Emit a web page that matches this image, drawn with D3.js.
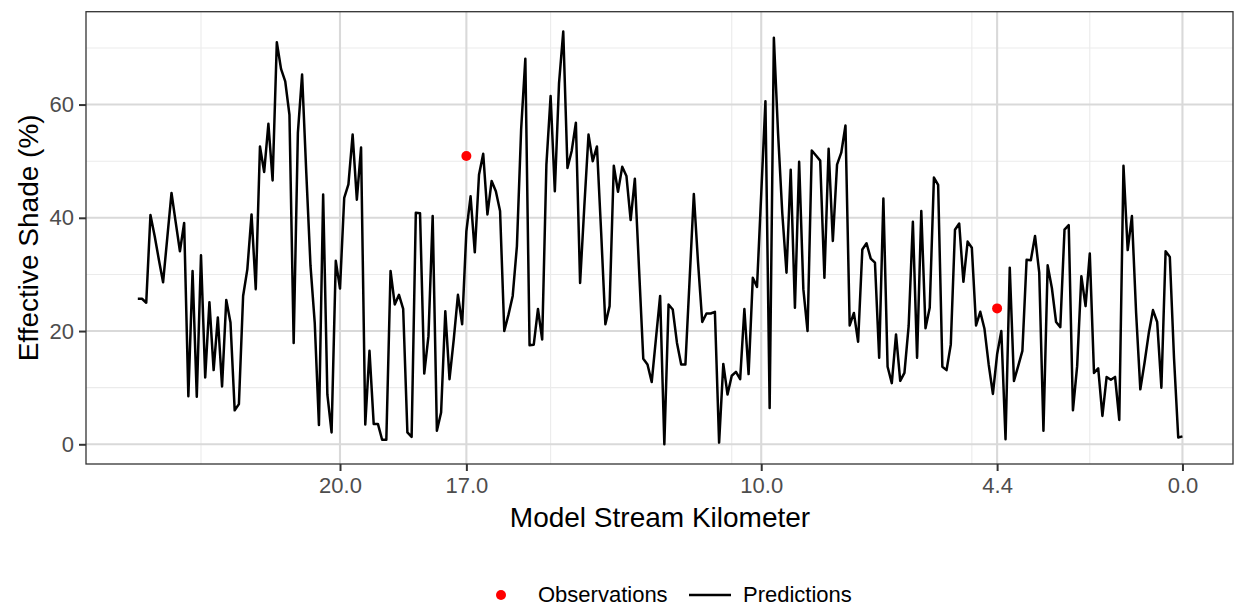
<!DOCTYPE html>
<html>
<head>
<meta charset="utf-8">
<script src="https://cdn.jsdelivr.net/npm/d3@7"></script>
<style>
  body { margin: 0; background: #fff; }
  text { font-family: "Liberation Sans", Arial, sans-serif; }
</style>
</head>
<body>
<div id="chart"></div>
<script>
// predicted effective shade, one value every 0.1 km from km 24.8 down to 0.0
var kmStart = 24.8, kmStep = 0.1;
var predShade = [
  25.7, 25.7, 25.0, 40.5, 36.8, 32.6, 28.6, 36.5, 44.4, 39.2,
  34.1, 39.1,  8.5, 30.6,  8.4, 33.4, 11.8, 25.1, 13.1, 22.4,
  10.2, 25.5, 21.5,  6.0,  7.1, 26.2, 30.9, 40.6, 27.4, 52.6,
  48.1, 56.6, 46.6, 71.0, 66.3, 64.1, 58.2, 17.9, 55.0, 65.3,
  47.9, 31.5, 21.5,  3.4, 44.1,  8.8,  2.1, 32.4, 27.5, 43.5,
  45.9, 54.7, 43.2, 52.4,  3.5, 16.5,  3.6,  3.6,  0.8,  0.8,
  30.6, 24.7, 26.4, 23.9,  2.1,  1.3, 40.9, 40.8, 12.5, 19.1,
  40.3,  2.4,  5.6, 23.5, 11.5, 18.5, 26.4, 21.2, 37.6, 43.8,
  33.9, 47.6, 51.3, 40.6, 46.5, 44.7, 41.2, 20.0, 22.9, 26.2,
  35.0, 55.6, 68.1, 17.5, 17.6, 23.9, 18.5, 49.4, 61.5, 44.7,
  63.8, 72.9, 48.8, 51.8, 56.8, 28.5, 42.0, 54.7, 50.0, 52.6,
  37.4, 21.2, 24.4, 49.2, 44.6, 49.0, 47.4, 39.6, 46.9, 30.9,
  15.1, 14.1, 11.0, 18.6, 26.2,  0.0, 24.7, 23.8, 17.9, 14.1,
  14.1, 29.1, 44.2, 32.1, 21.6, 23.1, 23.1, 23.4,  0.3, 14.2,
   8.8, 12.1, 12.8, 11.5, 23.9, 12.4, 29.4, 27.8, 44.2, 60.6,
   6.4, 71.8, 54.9, 40.8, 30.3, 48.5, 24.1, 49.9, 27.4, 20.0,
  51.9, 51.0, 50.1, 29.4, 52.2, 35.9, 49.4, 51.5, 56.3, 21.0,
  23.2, 18.1, 34.4, 35.5, 32.8, 32.1, 15.3, 43.4, 13.7, 10.8,
  19.4, 11.2, 12.6, 20.9, 39.3, 15.3, 41.2, 20.5, 24.1, 47.1,
  45.8, 13.7, 13.1, 17.6, 37.9, 39.0, 28.7, 35.8, 34.7, 21.0,
  23.4, 20.4, 14.1,  8.9, 15.9, 20.0,  0.9, 31.2, 11.2, 13.8,
  16.5, 32.6, 32.5, 36.8, 30.3,  2.4, 31.6, 27.6, 21.6, 20.7,
  37.9, 38.7,  6.0, 13.8, 29.7, 24.4, 33.7, 12.6, 13.4,  5.0,
  11.9, 11.4, 11.9,  4.3, 49.2, 34.3, 40.3, 23.2,  9.7, 14.4,
  19.6, 23.7, 21.6, 10.0, 34.1, 33.1, 15.2,  1.2,  1.4
];

// observed shade
var obsKm = [17.0, 4.4];
var obsShade = [50.9, 24.0];

// axes
var xBreaks = [20.0, 17.0, 10.0, 4.4, 0.0];
var xMinor = [23.3, 15.0, 10.7, 5.0, 2.2];
var yBreaks = [0, 20, 40, 60];
var yMinor = [10, 30, 50, 70];

var predictions = predShade.map(function(v, i) {
  return { km: +(kmStart - i * kmStep).toFixed(1), shade: v };
});
var observations = obsKm.map(function(k, i) {
  return { km: k, shade: obsShade[i] };
});

var W = 1238, H = 606;
var pLeft = 86, pRight = 1233, pTop = 11.7, pBottom = 464;

var x = d3.scaleLinear().domain([26.03, -1.2]).range([pLeft, pRight]);
var y = d3.scaleLinear().domain([-3.48, 76.4]).range([pBottom, pTop]);

var svg = d3.select("#chart").append("svg")
  .attr("width", W)
  .attr("height", H);

svg.append("rect")
  .attr("width", W).attr("height", H)
  .attr("fill", "#fff");

// grid
var grid = svg.append("g");
grid.selectAll(".xminor").data(xMinor).enter().append("line")
  .attr("x1", function(d) { return x(d); }).attr("x2", function(d) { return x(d); })
  .attr("y1", pTop).attr("y2", pBottom)
  .attr("stroke", "#ebebeb").attr("stroke-width", 1.1);
grid.selectAll(".yminor").data(yMinor).enter().append("line")
  .attr("x1", pLeft).attr("x2", pRight)
  .attr("y1", function(d) { return y(d); }).attr("y2", function(d) { return y(d); })
  .attr("stroke", "#ebebeb").attr("stroke-width", 1.1);
grid.selectAll(".xmajor").data(xBreaks).enter().append("line")
  .attr("x1", function(d) { return x(d); }).attr("x2", function(d) { return x(d); })
  .attr("y1", pTop).attr("y2", pBottom)
  .attr("stroke", "#d9d9d9").attr("stroke-width", 2.1);
grid.selectAll(".ymajor").data(yBreaks).enter().append("line")
  .attr("x1", pLeft).attr("x2", pRight)
  .attr("y1", function(d) { return y(d); }).attr("y2", function(d) { return y(d); })
  .attr("stroke", "#d9d9d9").attr("stroke-width", 2.1);

// predictions line
var line = d3.line()
  .x(function(d) { return x(d.km); })
  .y(function(d) { return y(d.shade); });

svg.append("path")
  .datum(predictions)
  .attr("d", line)
  .attr("fill", "none")
  .attr("stroke", "#000")
  .attr("stroke-width", 2.5)
  .attr("stroke-linejoin", "round");

// observations
svg.selectAll(".obs").data(observations).enter().append("circle")
  .attr("cx", function(d) { return x(d.km); })
  .attr("cy", function(d) { return y(d.shade); })
  .attr("r", 5)
  .attr("fill", "#ff0000");

// panel border
svg.append("rect")
  .attr("x", pLeft).attr("y", pTop)
  .attr("width", pRight - pLeft).attr("height", pBottom - pTop)
  .attr("fill", "none")
  .attr("stroke", "#333")
  .attr("stroke-width", 1.3);

// axes
var xAxis = svg.append("g")
  .attr("transform", "translate(0," + pBottom + ")")
  .call(d3.axisBottom(x).tickValues(xBreaks).tickSize(7).tickPadding(6)
    .tickFormat(d3.format(".1f")));
var yAxis = svg.append("g")
  .attr("transform", "translate(" + pLeft + ",0)")
  .call(d3.axisLeft(y).tickValues(yBreaks).tickSize(7).tickPadding(5));

[xAxis, yAxis].forEach(function(g) {
  g.select(".domain").remove();
  g.selectAll(".tick line").attr("stroke", "#333").attr("stroke-width", 2);
  g.selectAll(".tick text")
    .attr("fill", "#4d4d4d")
    .style("font-size", "22px");
});

// axis titles
svg.append("text")
  .attr("x", (pLeft + pRight) / 2 + 0.5)
  .attr("y", 527)
  .attr("text-anchor", "middle")
  .style("font-size", "28px")
  .attr("fill", "#000")
  .text("Model Stream Kilometer");

svg.append("text")
  .attr("transform", "translate(38," + ((pTop + pBottom) / 2) + ") rotate(-90)")
  .attr("text-anchor", "middle")
  .style("font-size", "28px")
  .attr("fill", "#000")
  .text("Effective Shade (%)");

// legend
var lg = svg.append("g").attr("transform", "translate(0,595)");
lg.append("circle").attr("cx", 501).attr("cy", 0).attr("r", 5).attr("fill", "#ff0000");
lg.append("text").attr("x", 538).attr("y", 7).style("font-size", "22px").text("Observations");
lg.append("line").attr("x1", 689).attr("x2", 731).attr("y1", 0).attr("y2", 0)
  .attr("stroke", "#000").attr("stroke-width", 2.5);
lg.append("text").attr("x", 743).attr("y", 7).style("font-size", "22px").text("Predictions");
</script>
</body>
</html>
